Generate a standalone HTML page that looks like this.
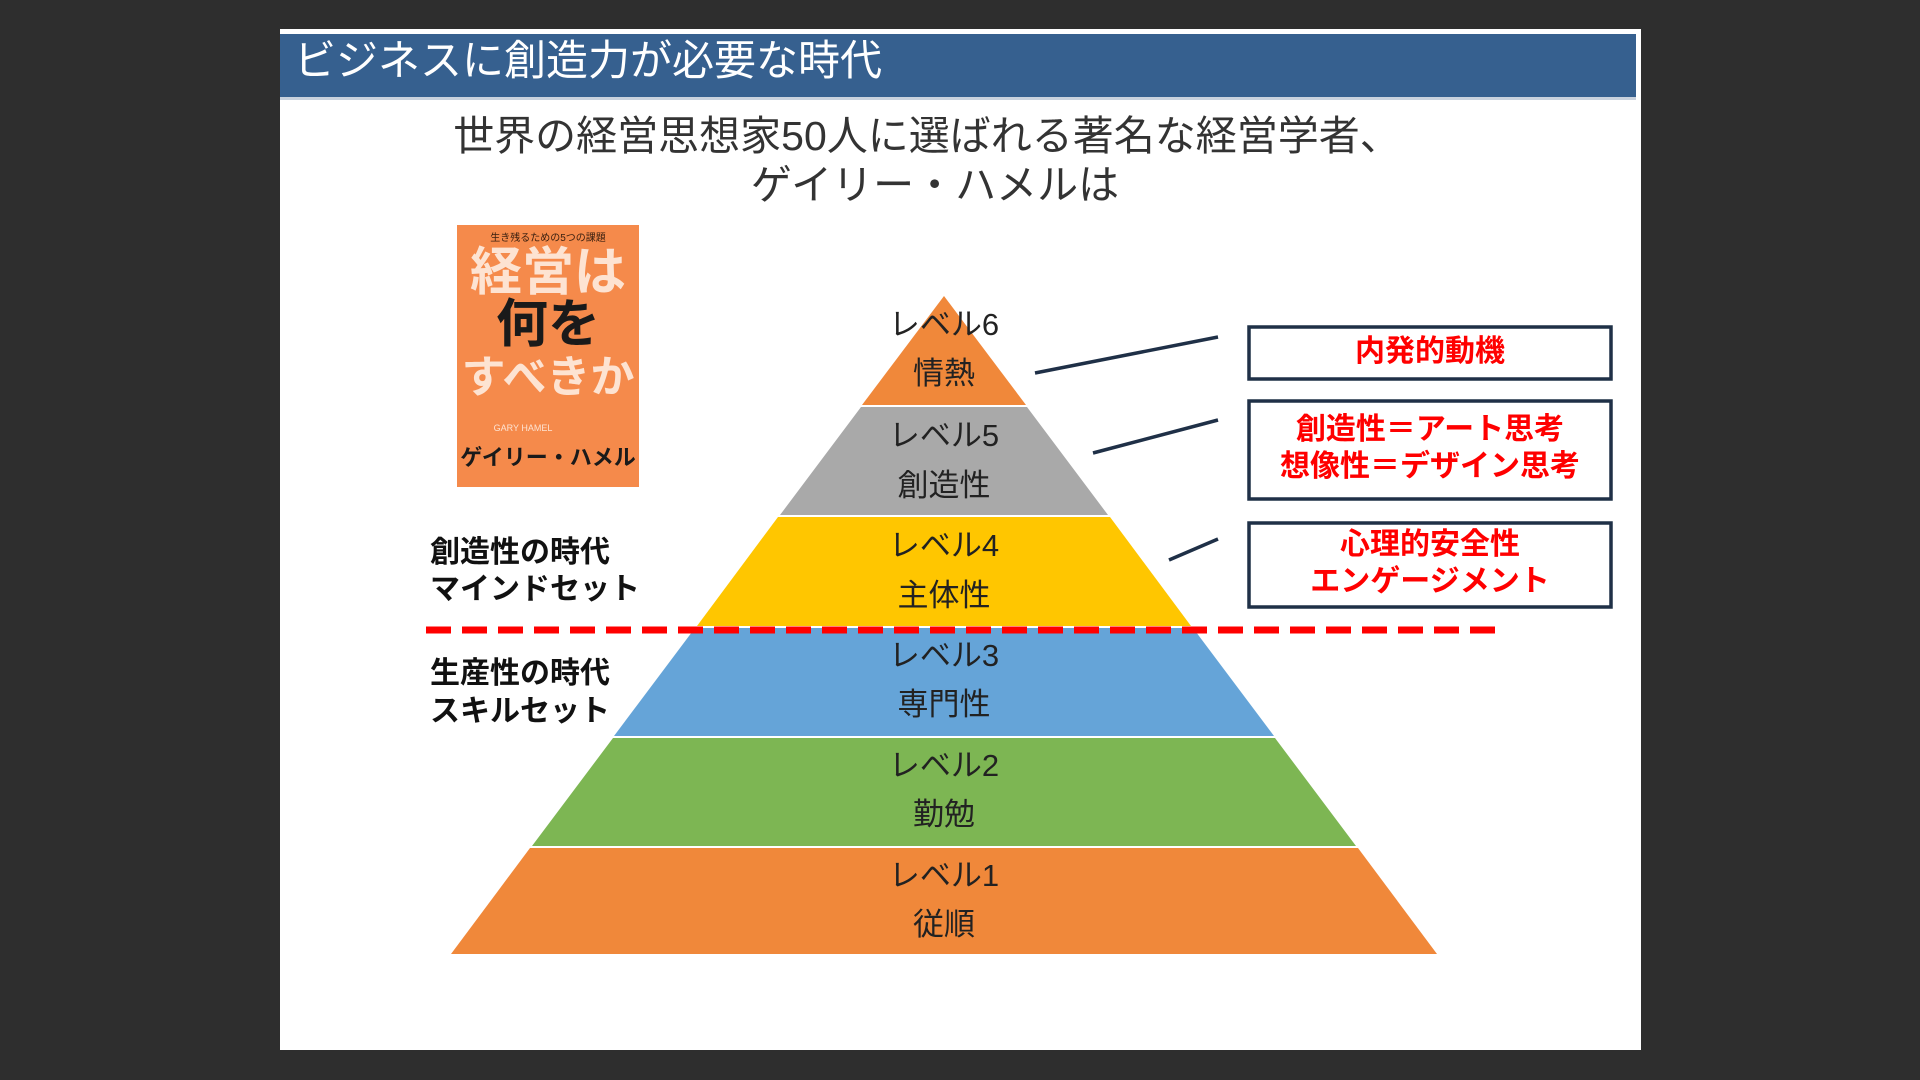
<!DOCTYPE html>
<html><head><meta charset="utf-8"><style>
html,body{margin:0;padding:0;background:#2e2e2e;}
svg{display:block}
text{font-family:"Liberation Sans","Noto Sans CJK JP",sans-serif;}
</style></head><body>
<svg width="1920" height="1080" viewBox="0 0 1920 1080">
<rect x="0" y="0" width="1920" height="1080" fill="#2e2e2e"/>
<rect x="280" y="29" width="1361" height="1021" fill="#ffffff"/>
<rect x="280" y="34" width="1356" height="63" fill="#36608f"/>
<rect x="280" y="97" width="1356" height="3" fill="#c9d2de"/>
<text x="294" y="75" font-size="42" fill="#ffffff">ビジネスに創造力が必要な時代</text>
<text x="927" y="150" font-size="41" fill="#333" text-anchor="middle">世界の経営思想家50人に選ばれる著名な経営学者、</text>
<text x="935" y="199" font-size="41" fill="#333" text-anchor="middle">ゲイリー・ハメルは</text>
<!-- book -->
<rect x="457" y="225" width="182" height="262" fill="#f58a4b"/>
<text x="548" y="241" font-size="10" fill="#3a2010" text-anchor="middle" font-family="Noto Serif CJK SC">生き残るための5つの課題</text>
<text x="548" y="290" font-size="52" fill="#fde3d2" text-anchor="middle" font-weight="bold" font-family="Noto Serif CJK SC">経営は</text>
<text x="548" y="342" font-size="52" fill="#1a1a1a" text-anchor="middle" font-weight="bold" font-family="Noto Serif CJK SC">何を</text>
<text x="548" y="392" font-size="44" fill="#fde3d2" text-anchor="middle" font-weight="bold" font-family="Noto Serif CJK SC">すべきか</text>
<text x="523" y="431" font-size="9" fill="#fde3d2" text-anchor="middle">GARY HAMEL</text>
<text x="548" y="465" font-size="22" fill="#1a1a1a" text-anchor="middle" font-weight="bold" font-family="Noto Serif CJK SC">ゲイリー・ハメル</text>
<!-- pyramid -->
<polygon points="944,296 1026,405 862,405" fill="#f0883a"/>
<polygon points="861,407 1027,407 1108,515 780,515" fill="#a9a9a9"/>
<polygon points="778,517 1110,517 1191,626 697,626" fill="#ffc600"/>
<polygon points="695,628 1193,628 1274,736 614,736" fill="#65a4d8"/>
<polygon points="613,738 1275,738 1356,846 532,846" fill="#7db653"/>
<polygon points="530,848 1358,848 1437,954 451,954" fill="#f0883a"/>
<g font-size="31" fill="#222" text-anchor="middle">
<text x="944" y="335">レベル6</text><text x="944" y="384">情熱</text>
<text x="944" y="446">レベル5</text><text x="944" y="496">創造性</text>
<text x="944" y="556">レベル4</text><text x="944" y="606">主体性</text>
<text x="944" y="666">レベル3</text><text x="944" y="715">専門性</text>
<text x="944" y="776">レベル2</text><text x="944" y="825">勤勉</text>
<text x="944" y="886">レベル1</text><text x="944" y="935">従順</text>
</g>
<line x1="426" y1="630" x2="1506" y2="630" stroke="#ff0000" stroke-width="7" stroke-dasharray="25,11"/>
<g font-size="30" font-weight="bold" fill="#111">
<text x="430" y="562">創造性の時代</text><text x="430" y="599">マインドセット</text>
<text x="430" y="683">生産性の時代</text><text x="430" y="721">スキルセット</text>
</g>
<g stroke="#1f3047" stroke-width="3.5" fill="none">
<line x1="1035" y1="373" x2="1218" y2="337"/>
<line x1="1093" y1="453" x2="1218" y2="420"/>
<line x1="1169" y1="560" x2="1218" y2="539"/>
<rect x="1249" y="327" width="362" height="52"/>
<rect x="1249" y="401" width="362" height="98"/>
<rect x="1249" y="523" width="362" height="84"/>
</g>
<g font-size="30" font-weight="bold" fill="#ff0000" text-anchor="middle">
<text x="1430" y="361">内発的動機</text>
<text x="1430" y="439">創造性＝アート思考</text>
<text x="1430" y="476">想像性＝デザイン思考</text>
<text x="1430" y="554">心理的安全性</text>
<text x="1430" y="591">エンゲージメント</text>
</g>
</svg>
</body></html>
